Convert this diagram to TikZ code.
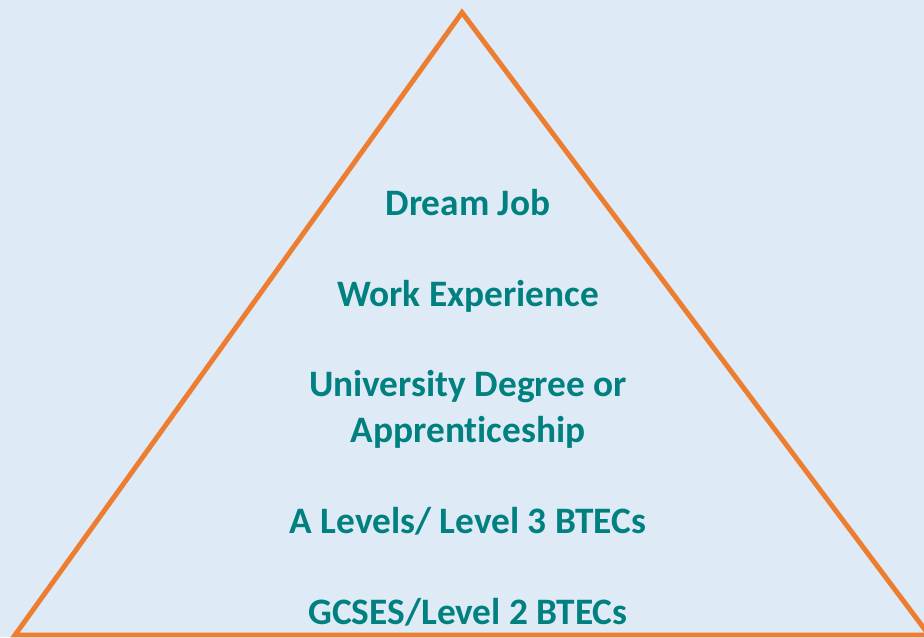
\documentclass[tikz,border=0pt]{standalone}
\usepackage{fontspec}
\setmainfont[Ligatures=NoCommon]{Carlito}
\definecolor{bgblue}{HTML}{DEEAF6}
\definecolor{triorange}{HTML}{ED7D31}
\definecolor{tealtext}{HTML}{00807F}
\begin{document}
\begin{tikzpicture}[x=0.75pt,y=-0.75pt,
  lvl/.style={anchor=base,inner sep=0pt,text=tealtext,font=\fontsize{28}{34}\selectfont\bfseries},
  edge/.style={draw=triorange,line width=3.7pt,line join=miter}]
\useasboundingbox (0,0) rectangle (924,637);
\clip (0,0) rectangle (924,637);
\fill[bgblue] (0,0) rectangle (924,637);
\coordinate (apex) at (462,12.5);
\coordinate (bl) at (15,635);
\coordinate (br) at (929,635);
\draw[edge] (apex) -- (bl) -- (br) -- cycle;
\node[lvl] (dream) at (468,215) {Dream Job};
\node[lvl] (work) at (468,306) {Work Experience};
\node[lvl] (uni) at (468,396) {University Degree or};
\node[lvl] (appr) at (468,442.5) {Apprenticeship};
\node[lvl] (alev) at (468,533) {A Levels/ Level 3 BTECs};
\node[lvl] (gcse) at (468,624) {GCSES/Level 2 BTECs};
\end{tikzpicture}
\end{document}
